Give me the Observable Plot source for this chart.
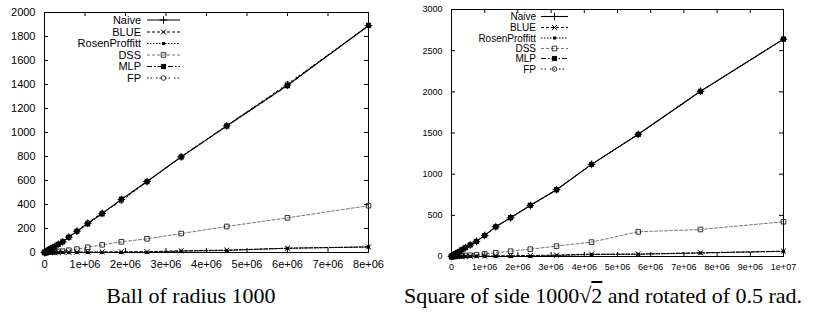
<!DOCTYPE html>
<html><head><meta charset="utf-8">
<script src="https://cdn.jsdelivr.net/npm/d3@7"></script>
<script src="https://cdn.jsdelivr.net/npm/@observablehq/plot@0.6"></script>
<style>
body{margin:0;background:#fff;}
#wrap{position:relative;width:814px;height:316px;overflow:hidden;background:#fff;}
.panel{position:absolute;top:0;}
.cap{position:absolute;top:285px;font-family:"Liberation Serif","Times New Roman",serif;font-size:22px;line-height:22px;white-space:nowrap;transform:translateX(-50%);color:#000;}
.ov{text-decoration:overline;}
</style>
</head><body>
<div id="wrap">
  <div id="left" class="panel" style="left:0px"></div>
  <div id="right" class="panel" style="left:407px"></div>
  <div class="cap" style="left:191px">Ball of radius 1000</div>
  <div class="cap" style="left:603px">Square of side 1000√<span class="ov">2</span> and rotated of 0.5 rad.</div>
</div>
<script>
// ---------- data: left panel (Ball of radius 1000) ----------
const seriesNames = ["Naive", "BLUE", "RosenProffitt", "DSS", "MLP", "FP"];
const ballX = [0, 10000, 20000, 35000, 45000, 60000, 80000, 107000, 142000, 190000, 253000, 338000, 450000, 600000, 800000, 1068000, 1424000, 1898000, 2531000, 3375000, 4500000, 6000000, 8000000];
const ballNaive = [0, 1.5, 3, 6, 8, 11, 15, 21, 29, 38, 50, 68, 89, 128, 178, 243, 326, 441, 592, 797, 1055, 1395, 1890];
const ballBLUE  = [0, 0, 0, 0, 0, 0, 0, 0.5, 0.5, 1, 1, 1, 2, 2, 3, 4, 5, 6, 7, 14, 20, 36, 47];
const ballRosen = [0, 0, 0, 0, 0, 0, 0, 0, 0, 0, 0, 0, 0, 0, 0, 0, 0, 0, 0, 11, 17, 35, 46];
const ballDSS   = [0, 0.3, 0.6, 1, 1.5, 2, 3, 4, 5, 6, 8, 9, 11, 19, 28, 44, 64, 89, 114, 158, 217, 289, 390];
const ballMLP   = [0, 1.5, 3, 6, 8, 11, 15, 21, 29, 38, 50, 68, 90, 127, 176, 238, 322, 445, 590, 795, 1053, 1390, 1893];
const ballFP    = [0, 1.5, 3, 6, 8, 11, 15, 21, 29, 38, 50, 68, 89, 130, 180, 248, 330, 430, 590, 800, 1058, 1405, 1890];
const ballXTicks = [0, 1e6, 2e6, 3e6, 4e6, 5e6, 6e6, 7e6, 8e6];
const ballYTicks = [0, 200, 400, 600, 800, 1000, 1200, 1400, 1600, 1800, 2000];

// ---------- data: right panel (Square of side 1000*sqrt2, rotated 0.5 rad) ----------
const sqX = [0, 10000, 18000, 32000, 42000, 56000, 75000, 100000, 133000, 178000, 237000, 316000, 422000, 563000, 750000, 1000000, 1334000, 1780000, 2373000, 3164000, 4219000, 5625000, 7500000, 10000000];
const sqNaive = [0, 2, 4, 8, 10, 14, 19, 25, 34, 46, 61, 82, 108, 140, 183, 256, 361, 471, 620, 811, 1119, 1484, 2007, 2640];
const sqBLUE  = [0, 0, 0, 0, 0, 0, 0, 1, 1, 1, 2, 2, 3, 4, 5, 6, 8, 10, 12, 17, 29, 30, 45, 65];
const sqRosen = [0, 0, 0, 0, 0, 0, 0, 0, 0, 0, 0, 0, 0, 0, 0, 0, 0, 0, 0, 12, 24, 27, 42, 62];
const sqDSS   = [0, 0.5, 1, 1.5, 2, 3, 4, 5, 6, 7, 8, 10, 12, 15, 20, 32, 45, 65, 89, 126, 175, 300, 328, 422];
const sqMLP   = [0, 2, 4, 8, 10, 14, 19, 25, 34, 46, 61, 82, 108, 141, 183, 255, 360, 472, 622, 810, 1118, 1482, 2005, 2642];
const sqFP    = [0, 2, 4, 8, 10, 14, 19, 25, 34, 46, 61, 82, 108, 140, 184, 257, 362, 470, 619, 812, 1120, 1485, 2008, 2638];
const sqXTicks = [0, 1e6, 2e6, 3e6, 4e6, 5e6, 6e6, 7e6, 8e6, 9e6, 1e7];
const sqYTicks = [0, 500, 1000, 1500, 2000, 2500, 3000];

// ---------- styles ----------
const styles = {
  Naive:         {stroke: "#000", dash: null,          symbol: "plus",   r: 2.6, fill: "none", mstroke: "#000", sw: 1.1},
  BLUE:          {stroke: "#000", dash: "3,2",         symbol: "times",  r: 2.4, fill: "none", mstroke: "#000", sw: 1},
  RosenProffitt: {stroke: "#000", dash: "1.5,1.5",     symbol: "square", r: 1.7, fill: "#000", mstroke: "none", sw: 1},
  DSS:           {stroke: "#777", dash: "3,2",         symbol: "square", r: 2.6, fill: "none", mstroke: "#333", sw: 1},
  MLP:           {stroke: "#000", dash: "5,2,1.5,2",   symbol: "square", r: 2.9, fill: "#000", mstroke: "none", sw: 1},
  FP:            {stroke: "#000", dash: "1.5,2,1.5,4", symbol: "circle", r: 2.3, fill: "none", mstroke: "#333", sw: 1}
};

const fmt = d => d === 0 ? "0" : d.toExponential().replace(/e\+(\d)$/, "e+0$1");

function panel(cfg) {
  const {xs, data, xMax, yMax, xTicks, yTicks, width, height, mt, mr, mb, ml, fontSize, xPad, yPad, legend} = cfg;
  const ph = height - mt - mb, pw = width - ml - mr;
  const tick = 4;
  const idx = xs.map((_, i) => i);
  const marks = [
    Plot.frame({stroke: "#000", strokeWidth: 1}),
    Plot.tickX(xTicks, {x: d => d, insetTop: ph - tick, stroke: "#000"}),
    Plot.tickX(xTicks, {x: d => d, insetBottom: ph - tick, stroke: "#000"}),
    Plot.tickY(yTicks, {y: d => d, insetRight: pw - tick, stroke: "#000"}),
    Plot.tickY(yTicks, {y: d => d, insetLeft: pw - tick, stroke: "#000"}),
    Plot.axisX({ticks: xTicks, tickSize: 0, tickPadding: xPad, tickFormat: fmt, label: null, fontSize}),
    Plot.axisY({ticks: yTicks, tickSize: 0, tickPadding: yPad, tickFormat: d => String(d), label: null, fontSize})
  ];
  const order = ["DSS", "BLUE", "RosenProffitt", "FP", "MLP", "Naive"];
  for (const name of order) {
    const s = styles[name], vals = data[name];
    marks.push(Plot.line(idx, {x: i => xs[i], y: i => vals[i], stroke: s.stroke, strokeWidth: s.sw, strokeDasharray: s.dash || undefined}));
  }
  for (const name of order) {
    const s = styles[name], vals = data[name];
    marks.push(Plot.dot(idx, {x: i => xs[i], y: i => vals[i], symbol: s.symbol, r: s.r, fill: s.fill, stroke: s.mstroke, strokeWidth: 1}));
  }
  const svg = Plot.plot({
    width, height, marginTop: mt, marginRight: mr, marginBottom: mb, marginLeft: ml,
    x: {domain: [0, xMax]},
    y: {domain: [0, yMax]},
    style: {fontFamily: "'Liberation Sans', Arial, sans-serif", fontSize: fontSize + "px", background: "#fff", color: "#000"},
    marks
  });
  // legend (key box inside the plot, like gnuplot)
  const g = d3.select(svg).append("g")
    .attr("font-family", "'Liberation Sans', Arial, sans-serif")
    .attr("font-size", legend.fontSize + "px");
  seriesNames.forEach((name, k) => {
    const s = styles[name];
    const y = legend.rows[k];
    g.append("text").attr("x", legend.textX).attr("y", y).attr("dy", "0.35em")
      .attr("text-anchor", "end").attr("fill", "#000").text(name);
    g.append("line").attr("x1", legend.x1).attr("x2", legend.x2).attr("y1", y).attr("y2", y)
      .attr("stroke", s.stroke).attr("stroke-width", s.sw).attr("stroke-dasharray", s.dash || null);
    const symType = {plus: d3.symbolPlus, times: d3.symbolTimes, square: d3.symbolSquare, circle: d3.symbolCircle}[s.symbol];
    const sym = symType === d3.symbolPlus ? d3.symbol(d3.symbolCross2 || d3.symbolPlus, s.r * s.r * Math.PI) : d3.symbol(symType, s.r * s.r * Math.PI);
    g.append("path").attr("transform", `translate(${(legend.x1 + legend.x2) / 2},${y})`)
      .attr("d", d3.symbol(symType, s.r * s.r * Math.PI)())
      .attr("fill", s.fill).attr("stroke", s.mstroke === "none" ? null : s.mstroke);
  });
  return svg;
}

document.getElementById("left").append(panel({
  xs: ballX,
  data: {Naive: ballNaive, BLUE: ballBLUE, RosenProffitt: ballRosen, DSS: ballDSS, MLP: ballMLP, FP: ballFP},
  xMax: 8e6, yMax: 2000, xTicks: ballXTicks, yTicks: ballYTicks,
  width: 407, height: 280, mt: 12, mr: 39, mb: 28, ml: 44,
  fontSize: 11, xPad: 8, yPad: 9,
  legend: {fontSize: 11, textX: 141, x1: 147, x2: 180, rows: [20, 32, 43.5, 55, 66.5, 78]}
}));

document.getElementById("right").append(panel({
  xs: sqX,
  data: {Naive: sqNaive, BLUE: sqBLUE, RosenProffitt: sqRosen, DSS: sqDSS, MLP: sqMLP, FP: sqFP},
  xMax: 1e7, yMax: 3000, xTicks: sqXTicks, yTicks: sqYTicks,
  width: 407, height: 280, mt: 9, mr: 31, mb: 24, ml: 44,
  fontSize: 9, xPad: 7, yPad: 9,
  legend: {fontSize: 10, textX: 129, x1: 134, x2: 161, rows: [16.5, 27.5, 38, 48.5, 58.5, 69]}
}));
</script>
</body></html>
